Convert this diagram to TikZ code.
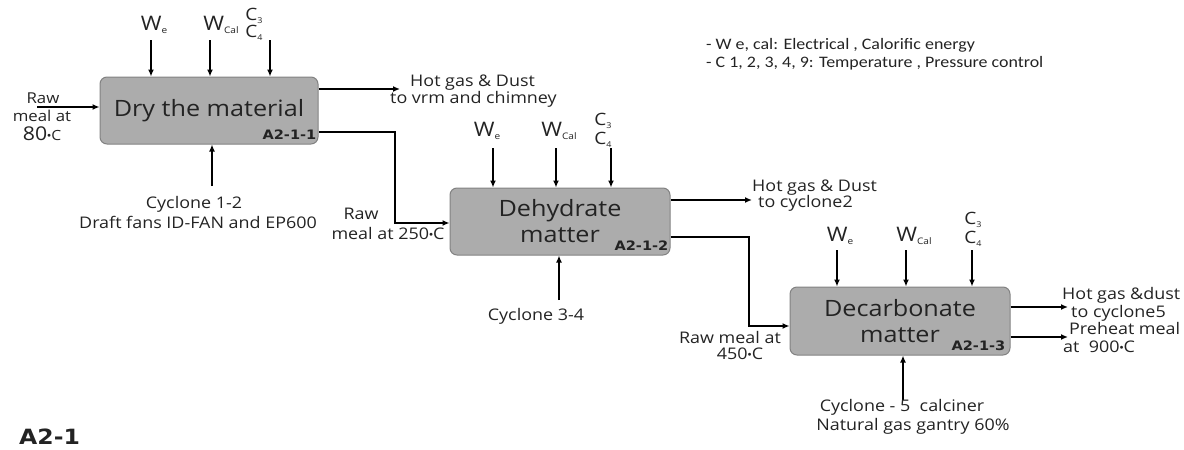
\documentclass[tikz,border=0pt]{standalone}
\usepackage{fontspec}
\setmainfont{Open Sans}[FakeStretch=1.12]
\newfontfamily\legendfont{Carlito}[FakeStretch=1.12]
\newfontfamily\idfont{DejaVu Sans}[FakeStretch=1.12]
\usetikzlibrary{arrows.meta}
\definecolor{boxgray}{RGB}{172,172,172}
\definecolor{boxedge}{RGB}{130,130,130}
\definecolor{txt}{RGB}{35,35,35}
\newcommand\mysub[1]{\raisebox{-0.3ex}{\fontsize{9}{10}\selectfont #1}}
\newcommand\csub[1]{\raisebox{-0.3ex}{\fontsize{8}{9}\selectfont #1}}
\newcommand\degb{\raisebox{0.35ex}{\scriptsize$\bullet$}}
\begin{document}
\begin{tikzpicture}[x=1pt,y=-1pt,
  proc/.style={draw=boxedge, fill=boxgray, rounded corners=7pt, line width=1pt,
    minimum width=220pt, minimum height=67pt, inner sep=0pt, align=center,
    text=txt, font=\fontsize{22.5}{26}\selectfont},
  flow/.style={line width=1.6pt, -{Latex[length=7pt,width=6pt]}},
  lbl/.style={inner sep=0pt, align=center, text=txt, font=\fontsize{16}{18}\selectfont},
  wlbl/.style={inner sep=0pt, text=txt, font=\fontsize{20}{22}\selectfont},
  clbl/.style={inner sep=0pt, text=txt, font=\fontsize{17}{19}\selectfont},
  idlbl/.style={inner sep=0pt, text=txt, font=\idfont\bfseries\fontsize{13}{15}\selectfont},
  leg/.style={inner sep=0pt, anchor=west, text=txt, font=\legendfont\fontsize{16}{18}\selectfont}]
\useasboundingbox (0,0) rectangle (1184,450);

% boxes
\node[proc, minimum width=218pt] (b1) at (209,110.5) {Dry the material};
\node[proc] (b2) at (560,221.5) {Dehydrate\\matter};
\node[proc, minimum height=68pt] (b3) at (900,321) {Decarbonate\\matter};
\node[idlbl, anchor=south east] (id1) at ([xshift=-2pt,yshift=5pt]b1.south east) {A2-1-1};
\node[idlbl, anchor=south east] (id2) at ([xshift=-2pt,yshift=5pt]b2.south east) {A2-1-2};
\node[idlbl, anchor=south east] (id3) at ([xshift=-5pt,yshift=5pt]b3.south east) {A2-1-3};

% box 1 top inputs
\node[wlbl] (we1) at (154,25) {W\mysub{e}};
\node[wlbl] (wc1) at (221,25) {W\mysub{Cal}};
\node[clbl] (c31) at (254,16) {C\csub{3}};
\node[clbl] (c41) at (254,33) {C\csub{4}};
\coordinate (t1a) at (151,40);
\coordinate (t1b) at (210,40);
\coordinate (t1c) at (270,40);
\draw[flow] (t1a) -- (t1a |- b1.north);
\draw[flow] (t1b) -- (t1b |- b1.north);
\draw[flow] (t1c) -- (t1c |- b1.north);

% box 1 left input
\coordinate (in1) at (37,107);
\draw[flow] (in1) -- (in1 -| b1.west);
\node[lbl, font=\fontsize{15}{17}\selectfont] (raw1a) at (43,98) {Raw};
\node[lbl, font=\fontsize{15}{17}\selectfont] (raw1b) at (42,116) {meal at};
\node[lbl, font=\fontsize{19}{21}\selectfont] (raw1c) at (42,134) {80\degb\fontsize{14}{16}\selectfont C};

% box 1 outputs
\coordinate (o1) at (400,89);
\draw[flow] (o1 -| b1.east) -- (o1);
\node[lbl, anchor=west] (h1a) at (410,83) {Hot gas \& Dust};
\node[lbl, anchor=west] (h1b) at (390,99) {to vrm and chimney};
\coordinate (k1) at (395,132);
\draw[flow] (k1 -| b1.east) -- (k1) -- (395,223) -- (395,223 -| b2.west);
\node[lbl] (raw2a) at (361,214) {Raw};
\node[lbl] (raw2b) at (388,233) {meal at 250\degb C};

% box 1 bottom
\coordinate (u1) at (212,186);
\draw[flow] (u1) -- (u1 |- b1.south);
\node[lbl] (cy1a) at (194,204) {Cyclone 1-2};
\node[lbl] (cy1b) at (198,222) {Draft fans ID-FAN and EP600};

% box 2 top inputs
\node[wlbl] (we2) at (487,131) {W\mysub{e}};
\node[wlbl] (wc2) at (559,131) {W\mysub{Cal}};
\node[clbl] (c32) at (603,121) {C\csub{3}};
\node[clbl] (c42) at (603,140) {C\csub{4}};
\coordinate (t2a) at (493,148);
\coordinate (t2b) at (556,148);
\coordinate (t2c) at (611,148);
\draw[flow] (t2a) -- (t2a |- b2.north);
\draw[flow] (t2b) -- (t2b |- b2.north);
\draw[flow] (t2c) -- (t2c |- b2.north);

% box 2 outputs
\coordinate (o2) at (752,200);
\draw[flow] (o2 -| b2.east) -- (o2);
\node[lbl, anchor=west] (h2a) at (752,188) {Hot gas \& Dust};
\node[lbl, anchor=west] (h2b) at (758,203) {to cyclone2};
\coordinate (k2) at (749,237);
\draw[flow] (k2 -| b2.east) -- (k2) -- (749,326) -- (749,326 -| b3.west);
\node[lbl] (raw3a) at (730,337) {Raw meal at};
\node[lbl] (raw3b) at (740,354) {450\degb C};

% box 2 bottom
\coordinate (u2) at (559,300);
\draw[flow] (u2) -- (u2 |- b2.south);
\node[lbl] (cy2) at (536,316) {Cyclone 3-4};

% box 3 top inputs
\node[wlbl] (we3) at (840,236) {W\mysub{e}};
\node[wlbl] (wc3) at (914,236) {W\mysub{Cal}};
\node[clbl] (c33) at (973,220) {C\csub{3}};
\node[clbl] (c43) at (973,239) {C\csub{4}};
\coordinate (t3a) at (837,250);
\coordinate (t3b) at (906,250);
\coordinate (t3c) at (972,250);
\draw[flow] (t3a) -- (t3a |- b3.north);
\draw[flow] (t3b) -- (t3b |- b3.north);
\draw[flow] (t3c) -- (t3c |- b3.north);

% box 3 outputs
\coordinate (o3a) at (1068,307);
\coordinate (o3b) at (1068,337);
\draw[flow] (o3a -| b3.east) -- (o3a);
\draw[flow] (o3b -| b3.east) -- (o3b);
\node[lbl, anchor=west] (h3a) at (1062,295) {Hot gas \&dust};
\node[lbl, anchor=west] (h3b) at (1071,313) {to cyclone5};
\node[lbl, anchor=west] (p3a) at (1069,328) {Preheat meal};
\node[lbl, anchor=west] (p3b) at (1063,347) {at\ \ 900\degb C};

% box 3 bottom
\coordinate (u3) at (903,400);
\draw[flow] (u3) -- (u3 |- b3.south);
\node[lbl] (cy3a) at (902,407) {Cyclone - 5\ \ calciner};
\node[lbl] (cy3b) at (913,426) {Natural gas gantry 60\%};

% legend
\node[leg] (leg1) at (706,45) {- W e, cal: Electrical , Calorific energy};
\node[leg] (leg2) at (706,63) {- C 1, 2, 3, 4, 9: Temperature , Pressure control};

% title
\node[inner sep=0pt, anchor=west, text=txt, font=\idfont\bfseries\fontsize{21}{23}\selectfont] (title) at (19,437) {A2-1};
\end{tikzpicture}
\end{document}
